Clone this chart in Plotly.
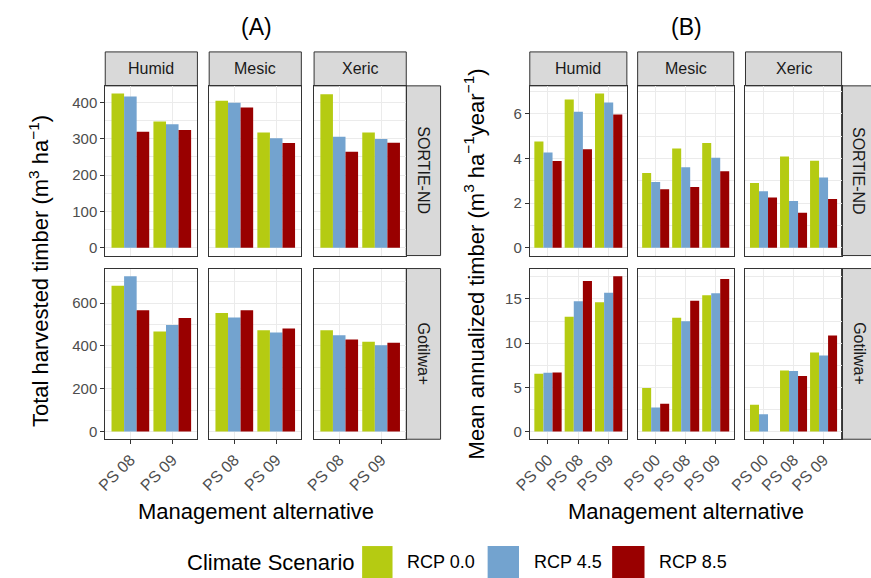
import plotly.graph_objects as go

W, H = 871, 578
FONT = "Liberation Sans, Arial, sans-serif"

scenarios = ["RCP 0.0", "RCP 4.5", "RCP 8.5"]
colors = ["#B5CB12", "#73A3CF", "#990000"]
sites = ["Humid", "Mesic", "Xeric"]
models = ["SORTIE-ND", "Gotilwa+"]

alts_A = ["PS 08", "PS 09"]
alts_B = ["PS 00", "PS 08", "PS 09"]

# (A) Total harvested timber; rows = RCP 0.0, RCP 4.5, RCP 8.5; columns = alternatives
a_sortie_humid = [[424, 347], [416, 340], [319, 324]]
a_sortie_mesic = [[404, 317], [399, 301], [386, 288]]
a_sortie_xeric = [[422, 317], [305, 299], [264, 289]]
a_gotilwa_humid = [[681, 467], [725, 498], [566, 530]]
a_gotilwa_mesic = [[553, 473], [533, 462], [566, 481]]
a_gotilwa_xeric = [[473, 419], [450, 403], [430, 414]]

# (B) Mean annualized timber
b_sortie_humid = [[4.76, 6.63, 6.90], [4.26, 6.09, 6.50], [3.88, 4.41, 5.96]]
b_sortie_mesic = [[3.35, 4.44, 4.69], [2.94, 3.60, 4.03], [2.62, 2.72, 3.43]]
b_sortie_xeric = [[2.90, 4.09, 3.90], [2.53, 2.09, 3.15], [2.25, 1.57, 2.18]]
b_gotilwa_humid = [[6.54, 13.00, 14.62], [6.65, 14.73, 15.72], [6.69, 17.04, 17.57]]
b_gotilwa_mesic = [[4.91, 12.88, 15.41], [2.72, 12.47, 15.64], [3.14, 14.81, 17.26]]
b_gotilwa_xeric = [[3.02, 6.91, 8.95], [1.96, 6.84, 8.61], [None, 6.27, 10.88]]

panel_data = {
    "A": [[a_sortie_humid, a_sortie_mesic, a_sortie_xeric],
          [a_gotilwa_humid, a_gotilwa_mesic, a_gotilwa_xeric]],
    "B": [[b_sortie_humid, b_sortie_mesic, b_sortie_xeric],
          [b_gotilwa_humid, b_gotilwa_mesic, b_gotilwa_xeric]],
}
ticks_A = [[0, 100, 200, 300, 400], [0, 200, 400, 600]]
ticks_B = [[0, 2, 4, 6], [0, 5, 10, 15]]
minor_A = [50, 100]
minor_B = [1, 2.5]

# pixel layout
cols_px = {"A": [(90, 184), (196, 290), (303, 397)],
           "B": [(523, 622), (633, 731), (743, 841)]}
rstrip_px = {"A": (397, 432), "B": (841, 876)}
rows_px = [(86, 256), (269, 440)]
strip_top = (52, 86)


def px(x):
    return x / W


def py(y):
    return 1 - y / H


fig = go.Figure()
layout = {}
shapes = []
annotations = []

GRID = "#EBEBEB"
LINE = "#333333"
TICKC = "#4D4D4D"

n = 0
for g in ["A", "B"]:
    alts = alts_A if g == "A" else alts_B
    ticks = ticks_A if g == "A" else ticks_B
    minors = minor_A if g == "A" else minor_B
    for r in range(2):
        row_vals = [v for site in panel_data[g][r] for s in site for v in s if v is not None]
        vmax = max(row_vals)
        yr = [-0.05 * vmax, 1.05 * vmax]
        for c in range(3):
            n += 1
            vals = panel_data[g][r][c]
            for k, sc in enumerate(scenarios):
                fig.add_trace(go.Bar(
                    x=alts, y=vals[k], name=sc, marker_color=colors[k],
                    marker_line_width=0, showlegend=False,
                    xaxis=f"x{n}", yaxis=f"y{n}",
                ))
            x0, x1 = cols_px[g][c]
            y0, y1 = rows_px[r]
            xa = dict(
                domain=[px(x0), px(x1)], anchor=f"y{n}", type="category",
                categoryorder="array", categoryarray=alts,
                range=[-0.6, len(alts) - 0.4],
                showline=True, mirror=True, linecolor=LINE, linewidth=1,
                showgrid=True, gridcolor=GRID, gridwidth=1, zeroline=False,
                fixedrange=True,
            )
            if r == 1:
                xa.update(ticks="outside", ticklen=4, tickcolor=LINE, tickwidth=1,
                          showticklabels=True, tickangle=-45,
                          tickfont=dict(family=FONT, size=16, color=TICKC))
            else:
                xa.update(ticks="", showticklabels=False)
            ya = dict(
                domain=[py(y1), py(y0)], anchor=f"x{n}", range=yr,
                tickvals=ticks[r],
                showline=True, mirror=True, linecolor=LINE, linewidth=1,
                showgrid=True, gridcolor=GRID, gridwidth=1, zeroline=False,
                minor=dict(dtick=minors[r], showgrid=True, gridcolor=GRID,
                           gridwidth=0.5, ticks=""),
                fixedrange=True,
            )
            if c == 0:
                ya.update(ticks="outside", ticklen=4, tickcolor=LINE, tickwidth=1,
                          showticklabels=True,
                          tickfont=dict(family=FONT, size=15, color=TICKC))
            else:
                ya.update(ticks="", showticklabels=False)
            layout[f"xaxis{n}"] = xa
            layout[f"yaxis{n}"] = ya

    # top strips
    for c in range(3):
        x0, x1 = cols_px[g][c]
        shapes.append(dict(type="rect", xref="paper", yref="paper",
                           x0=px(x0), x1=px(x1), y0=py(strip_top[1]), y1=py(strip_top[0]),
                           fillcolor="#D9D9D9", line=dict(color=LINE, width=1), layer="below"))
        annotations.append(dict(text=sites[c], xref="paper", yref="paper",
                                x=px((x0 + x1) / 2), y=py(sum(strip_top) / 2),
                                xanchor="center", yanchor="middle", showarrow=False,
                                font=dict(family=FONT, size=16, color="#1A1A1A")))
    # right strips
    rx0, rx1 = rstrip_px[g]
    for r in range(2):
        y0, y1 = rows_px[r]
        shapes.append(dict(type="rect", xref="paper", yref="paper",
                           x0=px(rx0), x1=px(rx1), y0=py(y1), y1=py(y0),
                           fillcolor="#D9D9D9", line=dict(color=LINE, width=1), layer="below"))
        annotations.append(dict(text=models[r], xref="paper", yref="paper",
                                x=px((rx0 + rx1) / 2), y=py((y0 + y1) / 2), textangle=90,
                                xanchor="center", yanchor="middle", showarrow=False,
                                font=dict(family=FONT, size=16, color="#1A1A1A")))

# Titles and axis titles
cx_A = 244
cx_B = 683
annotations += [
    dict(text="(A)", x=px(cx_A), y=py(27), xref="paper", yref="paper", showarrow=False,
         xanchor="center", yanchor="middle", font=dict(family=FONT, size=23, color="black")),
    dict(text="(B)", x=px(cx_B), y=py(27), xref="paper", yref="paper", showarrow=False,
         xanchor="center", yanchor="middle", font=dict(family=FONT, size=23, color="black")),
    dict(text="Management alternative", x=px(cx_A), y=py(512), xref="paper", yref="paper",
         showarrow=False, xanchor="center", yanchor="middle",
         font=dict(family=FONT, size=22, color="black")),
    dict(text="Management alternative", x=px(682), y=py(512), xref="paper", yref="paper",
         showarrow=False, xanchor="center", yanchor="middle",
         font=dict(family=FONT, size=22, color="black")),
    dict(text="Total harvested timber (m<sup>3</sup> ha<sup>\u22121</sup>)",
         x=px(22), y=py(272), xref="paper", yref="paper", textangle=-90,
         showarrow=False, xanchor="center", yanchor="middle",
         font=dict(family=FONT, size=22, color="black")),
    dict(text="Mean annualized timber (m<sup>3</sup> ha<sup>\u22121</sup>year<sup>\u22121</sup>)",
         x=px(466), y=py(264), xref="paper", yref="paper", textangle=-90,
         showarrow=False, xanchor="center", yanchor="middle",
         font=dict(family=FONT, size=22, color="black")),
]

# Legend (drawn manually)
annotations.append(dict(text="Climate Scenario", x=px(347), y=py(563), xref="paper", yref="paper",
                        showarrow=False, xanchor="right", yanchor="middle",
                        font=dict(family=FONT, size=22, color="black")))
key_x = [(352, 383), (480, 512), (607, 640)]
for k, sc in enumerate(scenarios):
    kx0, kx1 = key_x[k]
    shapes.append(dict(type="rect", xref="paper", yref="paper",
                       x0=px(kx0), x1=px(kx1), y0=py(579), y1=py(547),
                       fillcolor=colors[k], line=dict(width=0)))
    annotations.append(dict(text=sc, x=px(kx1 + 13), y=py(563), xref="paper", yref="paper",
                            showarrow=False, xanchor="left", yanchor="middle",
                            font=dict(family=FONT, size=18, color="black")))

fig.update_layout(
    width=W, height=H, margin=dict(l=0, r=0, t=0, b=0),
    paper_bgcolor="white", plot_bgcolor="white",
    barmode="group", bargap=0.1, bargroupgap=0,
    shapes=shapes, annotations=annotations, showlegend=False,
    font=dict(family=FONT),
    **layout,
)

fig.write_html("out.html", config={"displayModeBar": False})
